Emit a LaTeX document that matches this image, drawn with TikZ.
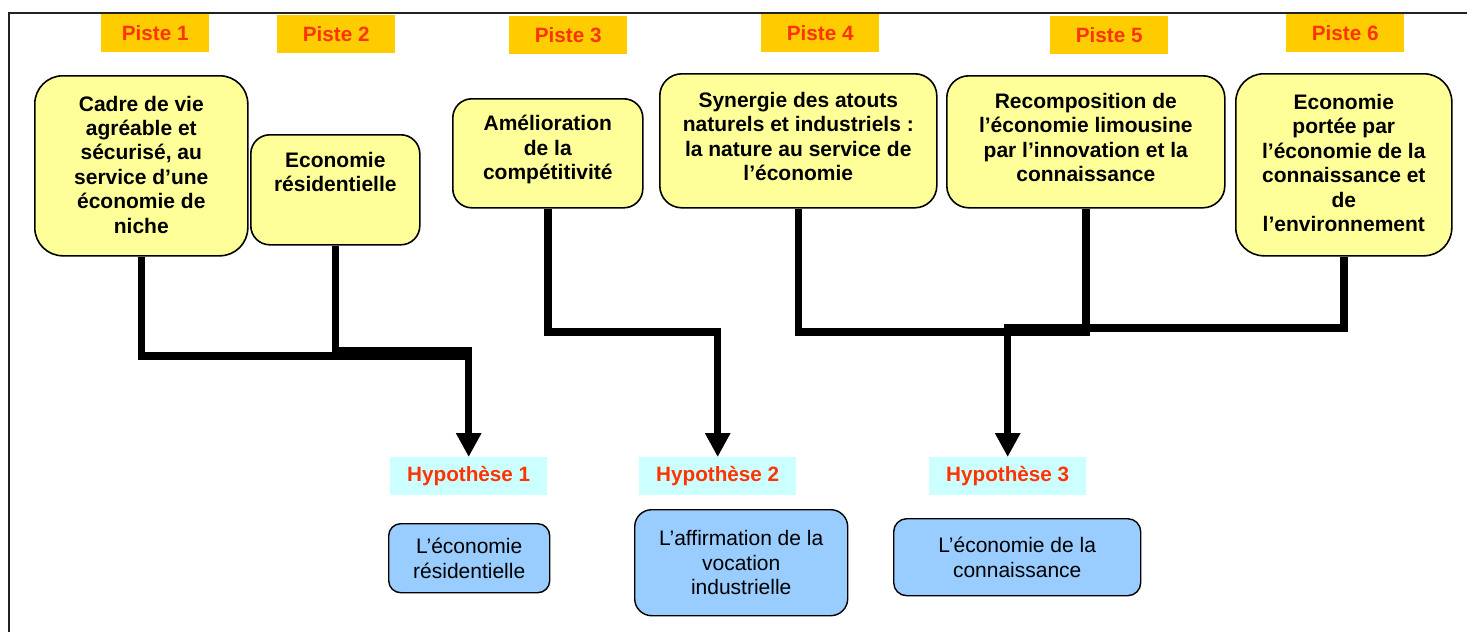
\documentclass[tikz,border=0pt]{standalone}
\usepackage{fontspec}
\setmainfont{Liberation Sans}
\usetikzlibrary{arrows.meta}
\definecolor{yfill}{HTML}{FFFF99}
\definecolor{pfill}{HTML}{FFCC00}
\definecolor{hfill}{HTML}{CCFFFF}
\definecolor{bfill}{HTML}{99CCFF}
\definecolor{tred}{HTML}{FF3300}
\definecolor{framegray}{HTML}{222222}
\begin{document}
\begin{tikzpicture}[x=1pt,y=-1pt]
\tikzset{
 ybox/.style={draw=black, line width=1.6pt, fill=yfill, inner sep=0pt, anchor=north west, font=\bfseries\fontsize{21}{24.4}\selectfont},
 piste/.style={fill=pfill, text=tred, inner sep=0pt, minimum width=118pt, minimum height=38pt, anchor=north west, font=\bfseries\fontsize{20.7}{24}\selectfont},
 hyp/.style={fill=hfill, text=tred, inner sep=0pt, minimum width=157pt, minimum height=38pt, anchor=north west, font=\bfseries\fontsize{20.7}{24}\selectfont},
 bbox/.style={draw=black, line width=1.4pt, fill=bfill, inner sep=0pt, anchor=north west, align=center, font=\fontsize{21}{24.4}\selectfont},
 conn/.style={line width=7.5pt, black, line join=miter},
 arr/.style={conn, -{Triangle[width=24pt,length=24pt]}},
 framel/.style={draw=framegray, line width=1.5pt}
}
\useasboundingbox (0,0) rectangle (1467,632);
% frame
\coordinate (fbl) at (9,632);
\coordinate (ftl) at (9,13);
\coordinate (ftr) at (1467,13);
\draw[framel] (fbl) -- (ftl) -- (ftr);

% Piste labels
\node[piste, minimum width=108pt] (P1) at (101,14) {Piste 1};
\node[piste] (P2) at (277,15) {Piste 2};
\node[piste] (P3) at (509,16) {Piste 3};
\node[piste] (P4) at (761,14) {Piste 4};
\node[piste] (P5) at (1050,16) {Piste 5};
\node[piste] (P6) at (1286,14) {Piste 6};

% yellow boxes
\node[ybox, rounded corners=28pt] (A) at (34,75) {\parbox[c][180pt][t]{213pt}{\centering\vspace*{20pt}Cadre de vie\\agréable et\\sécurisé, au\\service d’une\\économie de\\niche}};
\node[ybox, rounded corners=19pt] (B) at (250,134) {\parbox[c][110pt][t]{169pt}{\centering\vspace*{17pt}Economie\\résidentielle}};
\node[ybox, rounded corners=19pt] (C) at (452,98) {\parbox[c][109pt][t]{190pt}{\centering\vspace*{16.5pt}Amélioration\\de la\\compétitivité}};
\node[ybox, rounded corners=22pt] (D) at (659,73) {\parbox[c][134pt][t]{277pt}{\centering\vspace*{18.5pt}Synergie des atouts\\naturels et industriels :\\la nature au service de\\l’économie}};
\node[ybox, rounded corners=22pt] (E) at (946,75) {\parbox[c][132pt][t]{278pt}{\centering\vspace*{17.5pt}Recomposition de\\l’économie limousine\\par l’innovation et la\\connaissance}};
\node[ybox, rounded corners=28pt] (F) at (1235,73) {\parbox[c][182pt][t]{216pt}{\centering\vspace*{20.5pt}Economie\\portée par\\l’économie de la\\connaissance et\\de\\l’environnement}};

% hypotheses
\node[hyp] (H1) at (390,457) {Hypothèse 1};
\node[hyp] (H2) at (639,457) {Hypothèse 2};
\node[hyp] (H3) at (929,457) {Hypothèse 3};

% blue boxes
\node[bbox, rounded corners=12pt, minimum width=161pt, minimum height=69pt] (R1) at (388,523) {L’économie\\résidentielle};
\node[bbox, rounded corners=17pt, minimum width=213pt, minimum height=106pt] (R2) at (634,509) {L’affirmation de la\\vocation\\industrielle};
\node[bbox, rounded corners=13pt, minimum width=247pt, minimum height=77pt] (R3) at (893,518) {L’économie de la\\connaissance};

% connector levels
\coordinate (yA) at (0,356);
\coordinate (yB) at (0,351);
\coordinate (yC) at (0,332);
\coordinate (yF) at (0,328);

\draw[conn] (A.south) -- (A.south |- yA) -- (H1.north |- yA);
\draw[arr] (B.south) -- (B.south |- yB) -| (H1.north);
\draw[arr] (C.south) -- (C.south |- yC) -| (H2.north);
\draw[conn] (D.south) -- (D.south |- yC) -- (E.south |- yC) -- (E.south);
\draw[arr] (F.south) -- (F.south |- yF) -| (H3.north);
\end{tikzpicture}
\end{document}
